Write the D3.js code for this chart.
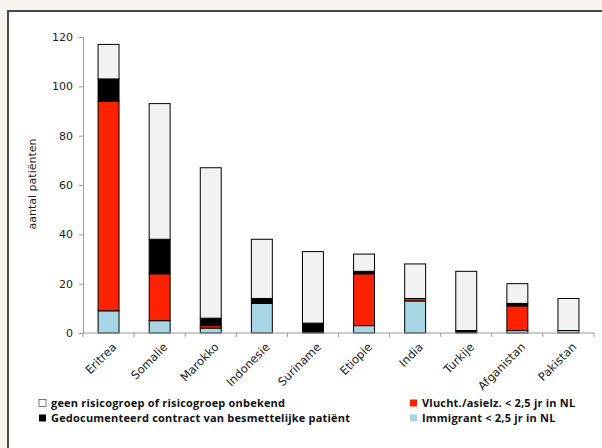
<!DOCTYPE html>
<html>
<head>
<meta charset="utf-8">
<script src="https://cdn.jsdelivr.net/npm/d3@7"></script>
<style>
  body { margin: 0; background: #f7f3ed; }
  svg { display: block; }
</style>
</head>
<body>
<svg width="602" height="448"></svg>
<script>
var countries = ["Eritrea", "Somalie", "Marokko", "Indonesie", "Suriname", "Etiopie", "India", "Turkije", "Afganistan", "Pakistan"];
var immigrant = [9, 5, 2, 12, 0, 3, 13, 0, 1, 1];
var vlucht    = [85, 19, 1, 0, 0, 21, 1, 0, 10, 0];
var contact   = [9, 14, 3, 2, 4, 1, 0, 1, 1, 0];
var onbekend  = [14, 55, 61, 24, 29, 7, 14, 24, 8, 13];
var yTicks = [0, 20, 40, 60, 80, 100, 120];

var keys = ["immigrant", "vlucht", "contact", "onbekend"];
var colors = {immigrant: "#a6d6e3", vlucht: "#ff2200", contact: "#000000", onbekend: "#f2f2f2"};

var svg = d3.select("svg");

// frame
svg.append("rect")
    .attr("x", 8).attr("y", 11)
    .attr("width", 602).attr("height", 448)
    .attr("fill", "#fff")
    .attr("stroke", "#4a4a4a")
    .attr("stroke-width", 2);

var margin = {top: 37, left: 83},
    width = 511,
    height = 296,
    g = svg.append("g").attr("transform", "translate(" + margin.left + "," + margin.top + ")");

var rows = countries.map(function(c, i) {
  return {country: c, immigrant: immigrant[i], vlucht: vlucht[i], contact: contact[i], onbekend: onbekend[i]};
});

var x = d3.scaleBand().domain(countries).range([0, width]).paddingInner(0.59).paddingOuter(0.295),
    y = d3.scaleLinear().domain([0, 120]).range([height, 0]);

var stack = d3.stack().keys(keys)(rows);

g.selectAll(".layer")
  .data(stack)
  .enter().append("g")
    .attr("class", "layer")
    .attr("fill", function(d) { return colors[d.key]; })
  .selectAll("rect")
  .data(function(d) { return d; })
  .enter().append("rect")
    .attr("x", function(d) { return x(d.data.country); })
    .attr("y", function(d) { return y(d[1]); })
    .attr("width", x.bandwidth())
    .attr("height", function(d) { return y(d[0]) - y(d[1]); })
    .attr("stroke", "#000")
    .attr("stroke-width", function(d) { return d[1] > d[0] ? 1 : 0; });

// y axis
var yAxis = g.append("g")
    .call(d3.axisLeft(y).tickValues(yTicks).tickSize(4).tickPadding(6));
yAxis.select(".domain").attr("stroke", "#999");
yAxis.selectAll(".tick line").attr("stroke", "#999");
yAxis.selectAll("text").style("font", "11px 'DejaVu Sans'").attr("fill", "#222");

// x axis: ticks between the categories
var xAxis = g.append("g").attr("transform", "translate(0," + height + ")");
xAxis.append("line").attr("x1", 0).attr("x2", width).attr("stroke", "#999");
xAxis.selectAll(".sep")
  .data(d3.range(countries.length + 1))
  .enter().append("line")
    .attr("x1", function(i) { return i * x.step(); })
    .attr("x2", function(i) { return i * x.step(); })
    .attr("y1", 0).attr("y2", 4)
    .attr("stroke", "#999");
xAxis.selectAll(".lbl")
  .data(countries)
  .enter().append("text")
    .attr("transform", function(d) { return "translate(" + (x(d) + x.bandwidth() / 2 + 3) + ",9) rotate(-45)"; })
    .attr("text-anchor", "end")
    .attr("dy", "0.7em")
    .style("font", "11.5px 'DejaVu Sans'")
    .attr("fill", "#222")
    .text(function(d) { return d; });

svg.append("text")
    .attr("transform", "translate(36,184) rotate(-90)")
    .attr("text-anchor", "middle")
    .style("font", "11px 'DejaVu Sans'")
    .attr("fill", "#222")
    .text("aantal patiënten");

// legend
var legend = [
  {label: "geen risicogroep of risicogroep onbekend", key: "onbekend", x: 39, y: 407},
  {label: "Gedocumenteerd contract van besmettelijke patiënt", key: "contact", x: 39, y: 422},
  {label: "Vlucht./asielz. < 2,5 jr in NL", key: "vlucht", x: 410, y: 407},
  {label: "Immigrant < 2,5 jr in NL", key: "immigrant", x: 410, y: 422}
];
var lg = svg.selectAll(".legend").data(legend).enter().append("g")
    .attr("transform", function(d) { return "translate(" + d.x + "," + d.y + ")"; });
lg.append("rect")
    .attr("x", 0).attr("y", -7.5).attr("width", 7).attr("height", 7)
    .attr("fill", function(d) { return d.key == "onbekend" ? "#fff" : colors[d.key]; })
    .attr("stroke", function(d) { return d.key == "onbekend" ? "#555" : "none"; })
    .attr("stroke-width", 0.8);
lg.append("text")
    .attr("x", 12)
    .style("font", "bold 11px 'Open Sans'")
    .style("letter-spacing", "0.2px")
    .attr("fill", "#111")
    .text(function(d) { return d.label; });
</script>
</body>
</html>
